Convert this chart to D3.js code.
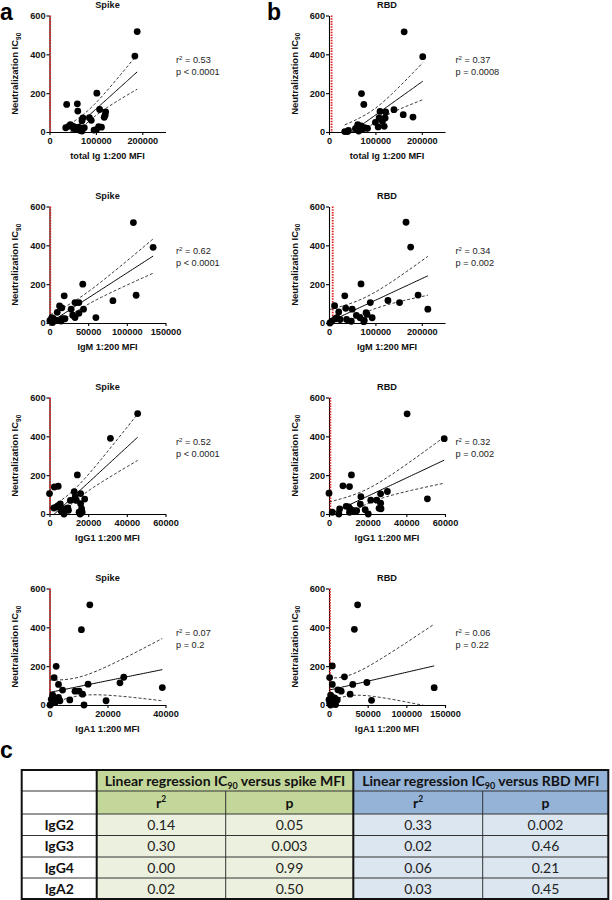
<!DOCTYPE html>
<html><head><meta charset="utf-8">
<script src="https://cdn.jsdelivr.net/npm/d3@7"></script>
<style>body{margin:0;background:#fff}svg{display:block}</style>
</head><body>
<script>
// ---------- DATA ----------
const panelTitles = ["Spike","RBD","Spike","RBD","Spike","RBD","Spike","RBD"];
const xLabels = ["total Ig 1:200 MFI","total Ig 1:200 MFI","IgM 1:200 MFI","IgM 1:200 MFI",
                 "IgG1 1:200 MFI","IgG1 1:200 MFI","IgA1 1:200 MFI","IgA1 1:200 MFI"];
const xMax = [250000,250000,150000,250000,60000,60000,40000,150000];
const xTicks = [[0,100000,200000],[0,100000,200000],[0,50000,100000,150000],[0,100000,200000],
                [0,20000,40000,60000],[0,20000,40000,60000],[0,20000,40000],[0,50000,100000,150000]];
const yTicks = [0,200,400,600];
const r2Labels = ["0.53","0.37","0.62","0.34","0.52","0.32","0.07","0.06"];
const pLabels = ["< 0.0001","= 0.0008","< 0.0001","= 0.002","< 0.0001","= 0.002","= 0.2","= 0.22"];
const cutoffs = [1500,5600,1000,8000,300,700,200,1300];

const spikeTotalIg = [[189000,517],[184000,391],[102000,200],[37000,142],[60000,145],[61000,108],
  [108000,116],[121000,104],[120000,88],[118000,76],[72000,72],[70000,58],[86000,74],[90000,60],
  [35000,22],[42000,30],[45000,38],[50000,30],[55000,25],[58000,12],[63000,25],[66000,8],[70000,5],
  [75000,22],[96000,10],[101000,12],[106000,28],[112000,25],[52000,18],[68000,18]];
const rbdTotalIg = [[162000,516],[202000,388],[70000,198],[75000,142],[140000,115],[110000,106],
  [122000,103],[160000,89],[181000,77],[108000,72],[121000,72],[100000,50],[115000,55],[106000,26],
  [119000,29],[62000,38],[69000,31],[60000,22],[66000,14],[76000,22],[83000,19],[73000,17],
  [34000,2],[42000,8],[40000,2],[64000,5],[80000,20],[57000,17]];
const spikeIgM = [[108500,517],[134000,390],[43000,200],[112000,143],[82000,115],[19000,140],
  [13000,88],[16000,78],[10000,55],[33000,105],[38000,105],[28000,71],[44000,71],[30000,40],
  [33000,28],[38000,50],[60000,28],[5000,22],[2000,17],[4000,2],[7000,14],[11000,14],[15000,10],
  [17000,22],[20000,22],[3000,28],[500,12]];
const rbdIgM = [[166000,519],[176000,391],[69000,201],[34000,140],[192000,144],[127000,116],
  [152000,105],[89000,105],[213000,71],[12000,89],[36000,76],[50000,71],[21000,57],[59000,39],
  [67000,27],[93000,27],[82000,44],[80000,53],[76000,14],[75000,7],[38000,18],[48000,9],
  [24000,18],[13000,21],[17000,27],[6000,9],[2000,0]];
const spikeIgG1 = [[45600,517],[31500,390],[14400,201],[2500,139],[4500,143],[0,105],[12800,115],
  [13300,88],[16100,105],[10800,70],[13900,70],[18200,77],[16100,53],[16600,27],[15300,9],
  [16900,9],[15800,0],[5600,52],[4500,43],[2300,31],[7300,22],[8600,27],[9800,19],[6100,14],
  [7500,0],[3600,36],[9500,31]];
const rbdIgG1 = [[40400,516],[59600,388],[11600,201],[7200,145],[10600,141],[0,107],[30200,116],
  [26700,104],[16500,89],[21600,71],[24700,71],[26700,56],[16200,51],[8900,39],[10200,36],
  [10900,26],[25900,29],[26900,27],[18700,22],[11900,17],[13100,17],[14300,17],[5500,26],
  [1700,9],[5100,0],[20300,0],[10600,9],[50900,78]];
const spikeIgA1 = [[13900,516],[11000,388],[2300,199],[1600,141],[25600,143],[24300,114],
  [13300,107],[3100,106],[38900,90],[4500,77],[8800,71],[10200,71],[11400,56],[1100,51],
  [3100,39],[7000,26],[19500,22],[600,29],[3600,22],[1600,17],[800,9],[1900,12],[11900,0],
  [200,0],[2500,29],[1100,22]];
const rbdIgA1 = [[37000,516],[32800,390],[4300,201],[850,141],[20000,145],[4300,106],[30700,106],
  [49000,116],[136000,89],[11500,78],[15800,71],[27300,56],[55000,24],[2100,51],[4300,39],
  [7200,36],[0,27],[3000,22],[6400,17],[10700,26],[900,9],[5100,5],[8500,2],[2000,0]];
const panelData = [spikeTotalIg, rbdTotalIg, spikeIgM, rbdIgM, spikeIgG1, rbdIgG1, spikeIgA1, rbdIgA1];

const tableRows = ["IgG2","IgG3","IgG4","IgA2"];
const spikeR2 = ["0.14","0.30","0.00","0.02"];
const spikeP  = ["0.05","0.003","0.99","0.50"];
const rbdR2   = ["0.33","0.02","0.06","0.03"];
const rbdP    = ["0.002","0.46","0.21","0.45"];

// ---------- LAYOUT ----------
const W = 612, H = 900;
const svg = d3.select("body").append("svg").attr("width", W).attr("height", H);
const FONT = "'Liberation Sans', Arial, sans-serif";
const colX = [49.5, 329];
const rowTop = [15.5, 206.5, 397.5, 588.5];
const pw = 116, ph = 116.5;
const defs = svg.append("defs");

function regress(pts){
  const n = pts.length;
  const mx = d3.mean(pts, d => d[0]), my = d3.mean(pts, d => d[1]);
  const sxx = d3.sum(pts, d => (d[0]-mx)**2), sxy = d3.sum(pts, d => (d[0]-mx)*(d[1]-my));
  const b = sxy/sxx, a = my - b*mx;
  const sse = d3.sum(pts, d => (d[1]-(a+b*d[0]))**2);
  const s = Math.sqrt(sse/(n-2));
  const t = 2.05;
  return {n, mx, sxx, a, b, s, t, xmin: d3.min(pts, d => d[0]), xmax: d3.max(pts, d => d[0])};
}

panelData.forEach((pts, i) => {
  const col = i % 2, row = Math.floor(i / 2);
  const x0 = colX[col], top = rowTop[row];
  const x = d3.scaleLinear().domain([0, xMax[i]]).range([x0, x0 + pw]);
  const y = d3.scaleLinear().domain([0, 600]).range([top + ph, top]);
  const g = svg.append("g");

  const ya = g.append("g").attr("transform", `translate(${x0},0)`)
    .call(d3.axisLeft(y).tickValues(yTicks).tickSize(3).tickSizeOuter(0).tickPadding(1).tickFormat(d3.format("d")));
  const xa = g.append("g").attr("transform", `translate(0,${top + ph})`)
    .call(d3.axisBottom(x).tickValues(xTicks[i]).tickSize(3).tickSizeOuter(0).tickPadding(2).tickFormat(d3.format("d")));
  [ya, xa].forEach(ax => {
    ax.selectAll("path,line").attr("stroke", "#000").attr("stroke-width", 1.1);
    ax.selectAll("text").attr("font-family", FONT).attr("font-weight", "bold").attr("font-size", 9.2).attr("fill", "#111");
  });

  g.append("line").attr("x1", x(cutoffs[i])).attr("x2", x(cutoffs[i]))
    .attr("y1", y(600)).attr("y2", y(0))
    .attr("stroke", "#e0201c").attr("stroke-width", 1.8).attr("stroke-dasharray", "1.5,1.2");

  const r = regress(pts);
  const clipId = "clip" + i;
  defs.append("clipPath").attr("id", clipId).append("rect")
    .attr("x", x0).attr("y", top).attr("width", pw + 2).attr("height", ph);
  const xs = d3.range(0, 61).map(k => r.xmin + (r.xmax - r.xmin) * k / 60);
  const fit = xv => r.a + r.b * xv;
  const half = xv => r.t * r.s * Math.sqrt(1 / r.n + (xv - r.mx) ** 2 / r.sxx);
  const line = d3.line().x(d => x(d[0])).y(d => y(d[1]));
  const lg = g.append("g").attr("clip-path", `url(#${clipId})`);
  lg.append("path").attr("d", line(xs.map(v => [v, fit(v)])))
    .attr("fill", "none").attr("stroke", "#000").attr("stroke-width", 1);
  [1, -1].forEach(sg => {
    lg.append("path").attr("d", line(xs.map(v => [v, fit(v) + sg * half(v)])))
      .attr("fill", "none").attr("stroke", "#000").attr("stroke-width", 0.8).attr("stroke-dasharray", "3,2");
  });

  g.selectAll("circle.pt").data(pts).join("circle").attr("class", "pt")
    .attr("cx", d => x(d[0])).attr("cy", d => y(d[1])).attr("r", 3.4).attr("fill", "#000");

  g.append("text").attr("x", x0 + pw / 2).attr("y", top - 7.5).attr("text-anchor", "middle")
    .attr("font-family", FONT).attr("font-weight", "bold").attr("font-size", 9.2).attr("fill", "#111")
    .text(panelTitles[i]);
  g.append("text").attr("x", x0 + pw / 2).attr("y", top + ph + 27).attr("text-anchor", "middle")
    .attr("font-family", FONT).attr("font-weight", "bold").attr("font-size", 9.2).attr("fill", "#111")
    .text(xLabels[i]);
  const yl = g.append("text").attr("transform", `translate(${x0 - 31.5},${top + ph / 2}) rotate(-90)`)
    .attr("text-anchor", "middle").attr("font-family", FONT).attr("font-weight", "bold")
    .attr("font-size", 9.5).attr("fill", "#111");
  yl.append("tspan").text("Neutralization IC");
  yl.append("tspan").attr("font-size", 6.5).attr("dy", 2.5).text("90");
  const st = g.append("text").attr("x", x0 + pw + 10.5).attr("y", top + 47.5)
    .attr("font-family", FONT).attr("font-size", 9.2).attr("fill", "#222");
  st.append("tspan").text("r");
  st.append("tspan").attr("font-size", 6).attr("dy", -3.5).text("2");
  st.append("tspan").attr("dy", 3.5).text(" = " + r2Labels[i]);
  g.append("text").attr("x", x0 + pw + 10.5).attr("y", top + 59)
    .attr("font-family", FONT).attr("font-size", 9.2).attr("fill", "#222").text("p " + pLabels[i]);
});

[["a", 0, 20], ["b", 267, 20], ["c", 0, 758]].forEach(([t, lx, ly]) => {
  svg.append("text").attr("x", lx).attr("y", ly).attr("font-family", FONT)
    .attr("font-weight", "bold").attr("font-size", 23).attr("fill", "#000").text(t);
});

// ---------- TABLE ----------
const TF = "Lato, 'Open Sans', sans-serif";
const cx = [21.7, 96.7, 225.7, 353.3, 482.7, 608.3];
const ry = [770, 791, 814, 835.5, 857, 878, 899];
const green = "#c4d79b", greenL = "#ebf1de", blue = "#95b3d7", blueL = "#dce6f1";
const TS = 14;
const tg = svg.append("g");
function cell(c0, c1, r0, r1, fill){
  tg.append("rect").attr("x", cx[c0]).attr("y", ry[r0]).attr("width", cx[c1] - cx[c0])
    .attr("height", ry[r1] - ry[r0]).attr("fill", fill);
}
cell(0, 1, 0, 6, "#fff");
cell(1, 3, 0, 2, green); cell(3, 5, 0, 2, blue);
cell(1, 3, 2, 6, greenL); cell(3, 5, 2, 6, blueL);
const thin = "#333";
[1, 2, 3, 4, 5].forEach(k => {
  tg.append("line").attr("x1", cx[0]).attr("x2", cx[5]).attr("y1", ry[k]).attr("y2", ry[k])
    .attr("stroke", thin).attr("stroke-width", 1);
});
[2, 4].forEach(k => tg.append("line").attr("x1", cx[k]).attr("x2", cx[k]).attr("y1", ry[1]).attr("y2", ry[6])
  .attr("stroke", thin).attr("stroke-width", 1));
[1, 3].forEach(k => tg.append("line").attr("x1", cx[k]).attr("x2", cx[k]).attr("y1", ry[0]).attr("y2", ry[6])
  .attr("stroke", "#111").attr("stroke-width", 2));
tg.append("rect").attr("x", cx[0]).attr("y", ry[0]).attr("width", cx[5] - cx[0]).attr("height", ry[6] - ry[0])
  .attr("fill", "none").attr("stroke", "#111").attr("stroke-width", 2);

function headerText(c0, c1, word){
  const t = tg.append("text").attr("x", (cx[c0] + cx[c1]) / 2).attr("y", (ry[0] + ry[1]) / 2 + 5)
    .attr("text-anchor", "middle").attr("font-family", TF).attr("font-weight", "bold")
    .attr("font-size", TS).attr("fill", "#111");
  t.append("tspan").text("Linear regression IC");
  t.append("tspan").attr("font-size", 9).attr("dy", 3).text("90");
  t.append("tspan").attr("dy", -3).text(" versus " + word + " MFI");
}
headerText(1, 3, "spike"); headerText(3, 5, "RBD");
[1, 3].forEach(k => {
  const t = tg.append("text").attr("x", (cx[k] + cx[k + 1]) / 2).attr("y", (ry[1] + ry[2]) / 2 + 5)
    .attr("text-anchor", "middle").attr("font-family", TF).attr("font-weight", "bold").attr("font-size", TS).attr("fill", "#111");
  t.append("tspan").text("r");
  t.append("tspan").attr("font-size", 8.5).attr("dy", -5.5).text("2");
  tg.append("text").attr("x", (cx[k + 1] + cx[k + 2]) / 2).attr("y", (ry[1] + ry[2]) / 2 + 5)
    .attr("text-anchor", "middle").attr("font-family", TF).attr("font-weight", "bold").attr("font-size", TS).attr("fill", "#111")
    .text("p");
});
const cols = [spikeR2, spikeP, rbdR2, rbdP];
tableRows.forEach((lab, j) => {
  const yy = (ry[j + 2] + ry[j + 3]) / 2 + 5;
  tg.append("text").attr("x", (cx[0] + cx[1]) / 2).attr("y", yy).attr("text-anchor", "middle")
    .attr("font-family", TF).attr("font-weight", "bold").attr("font-size", TS).attr("fill", "#111").text(lab);
  cols.forEach((arr, k) => {
    tg.append("text").attr("x", (cx[k + 1] + cx[k + 2]) / 2).attr("y", yy).attr("text-anchor", "middle")
      .attr("font-family", TF).attr("font-size", TS).attr("fill", "#222").text(arr[j]);
  });
});
</script>
</body></html>
